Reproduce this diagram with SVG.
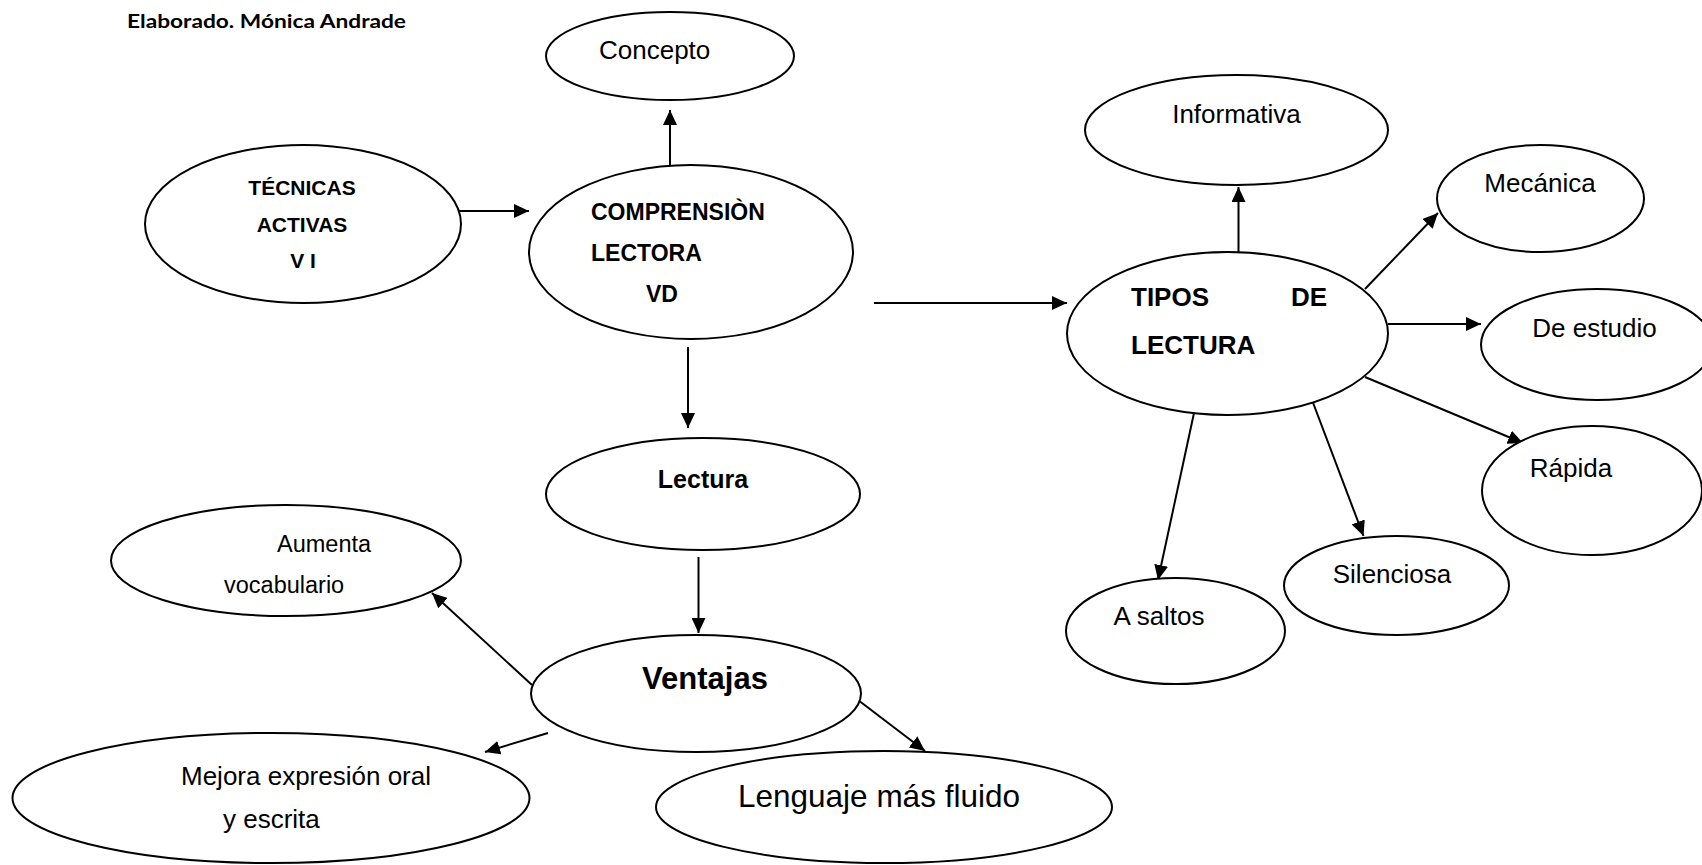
<svg xmlns="http://www.w3.org/2000/svg" width="1702" height="865" viewBox="0 0 1702 865">
<style>
.n ellipse{fill:#fff;stroke:#000;stroke-width:2}
text{font-family:"Liberation Sans",Arial,sans-serif;fill:#000;font-size:26px}
.b{font-weight:bold}
.m{text-anchor:middle}
.c line{stroke:#000;stroke-width:2;marker-end:url(#ah)}
</style>
<defs>
<marker id="ah" markerUnits="userSpaceOnUse" markerWidth="15" markerHeight="14" refX="15" refY="7" orient="auto">
<path d="M0,0 L15,7 L0,14 z" fill="#000"/>
</marker>
</defs>
<rect width="1702" height="865" fill="#fff"/>
<text x="127" y="28" style="font-family:Lato,'Liberation Sans',sans-serif;font-weight:bold;font-size:19.5px" textLength="279" lengthAdjust="spacingAndGlyphs">Elaborado. Mónica Andrade</text>

<g class="c" id="connectors">
<line x1="670" y1="165" x2="670" y2="110"/>
<line x1="459" y1="211" x2="529" y2="211"/>
<line x1="874" y1="303" x2="1067" y2="303"/>
<line x1="688" y1="347" x2="688" y2="428"/>
<line x1="1238.5" y1="252" x2="1238.5" y2="187"/>
<line x1="1365" y1="289" x2="1438" y2="213"/>
<line x1="1388" y1="324" x2="1481" y2="324"/>
<line x1="1365" y1="377" x2="1523" y2="443"/>
<line x1="1312" y1="400" x2="1363.5" y2="536"/>
<line x1="1194" y1="413" x2="1158" y2="580"/>
<line x1="698.5" y1="557" x2="698.5" y2="633"/>
<line x1="532" y1="685" x2="432" y2="593"/>
<line x1="548" y1="733" x2="485" y2="752"/>
<line x1="858" y1="700" x2="925" y2="751"/>
</g>

<g class="n" id="concepto"><ellipse cx="670" cy="56" rx="124" ry="44"/><text x="599" y="59">Concepto</text></g>
<g class="n" id="tecnicas"><ellipse cx="303" cy="224" rx="158" ry="79"/>
<text class="b m" x="302" y="195" style="font-size:21px">TÉCNICAS</text>
<text class="b m" x="302" y="232" style="font-size:21px">ACTIVAS</text>
<text class="b m" x="303" y="268" style="font-size:21px">V I</text></g>
<g class="n" id="comprension"><ellipse cx="691" cy="252" rx="162" ry="87"/>
<text class="b" x="591" y="220" style="font-size:23px">COMPRENSIÒN</text>
<text class="b" x="591" y="261" style="font-size:23px">LECTORA</text>
<text class="b" x="646" y="302" style="font-size:23px">VD</text></g>
<g class="n" id="lectura"><ellipse cx="703" cy="494" rx="157" ry="56"/><text class="b m" x="703" y="488" style="font-size:25px">Lectura</text></g>
<g class="n" id="ventajas"><ellipse cx="696" cy="693.5" rx="165" ry="58.5"/><text class="b m" x="705" y="689" style="font-size:31px">Ventajas</text></g>
<g class="n" id="aumenta"><ellipse cx="286" cy="560.5" rx="175" ry="55.5"/>
<text x="277" y="552" style="font-size:23.5px">Aumenta</text>
<text x="224" y="593" style="font-size:23.5px">vocabulario</text></g>
<g class="n" id="mejora"><ellipse cx="271" cy="798" rx="258.5" ry="65"/>
<text x="181" y="785">Mejora expresión oral</text>
<text x="223" y="828">y escrita</text></g>
<g class="n" id="lenguaje"><ellipse cx="884" cy="807" rx="228" ry="56"/><text x="738" y="807" style="font-size:31.5px">Lenguaje más fluido</text></g>
<g class="n" id="tipos"><ellipse cx="1227.5" cy="333.5" rx="160.5" ry="81.5"/>
<text class="b" x="1131" y="306">TIPOS</text>
<text class="b" x="1291" y="306">DE</text>
<text class="b" x="1131" y="354">LECTURA</text></g>
<g class="n" id="informativa"><ellipse cx="1236.5" cy="130" rx="151.5" ry="55"/><text class="m" x="1236.5" y="123">Informativa</text></g>
<g class="n" id="mecanica"><ellipse cx="1540.5" cy="198.5" rx="103.5" ry="53.5"/><text class="m" x="1540" y="192">Mecánica</text></g>
<g class="n" id="estudio"><ellipse cx="1597" cy="344.5" rx="116" ry="55.5"/><text class="m" x="1594.5" y="337">De estudio</text></g>
<g class="n" id="rapida"><ellipse cx="1592" cy="490.5" rx="110" ry="64.5"/><text class="m" x="1571" y="477">Rápida</text></g>
<g class="n" id="silenciosa"><ellipse cx="1396.5" cy="585.5" rx="112.5" ry="49.5"/><text class="m" x="1392" y="583">Silenciosa</text></g>
<g class="n" id="asaltos"><ellipse cx="1175.5" cy="631" rx="109.5" ry="53"/><text x="1113.5" y="625">A saltos</text></g>
</svg>
